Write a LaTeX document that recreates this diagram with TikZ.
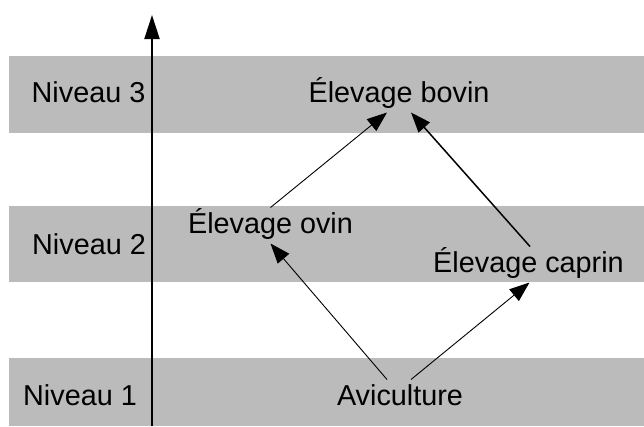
\documentclass[tikz,border=0pt]{standalone}
\usepackage{fontspec}
\setmainfont{Liberation Sans}
\usetikzlibrary{arrows.meta}
\definecolor{band}{HTML}{BBBBBB}
\tikzset{
  bandbox/.style={fill=band, draw=none},
  lbl/.style={inner sep=0pt, outer xsep=0pt, outer ysep=4.5pt, anchor=base,
    text height=21pt, text depth=6pt, font=\fontsize{28.8}{34}\selectfont},
  arr/.style={line width=0.9pt, -{Triangle[length=20pt,width=15pt]}},
  arrthick/.style={line width=1.5pt, -{Triangle[length=20pt,width=15pt]}},
  axis/.style={line width=2pt, -{Triangle[length=24pt,width=15pt]}}
}
\begin{document}
\begin{tikzpicture}[x=1pt,y=-1pt]
\useasboundingbox (0,0) rectangle (644,426);
% bands
\fill[bandbox] (9,56) rectangle (644,133);
\fill[bandbox] (9,206) rectangle (644,282);
\fill[bandbox] (9,358) rectangle (644,426);
% axis
\coordinate (axbot) at (152,426);
\coordinate (axtop) at (152,15);
\draw[axis] (axbot) -- (axtop);
% level labels
\node[lbl] (n3) at (88.5,102) {Niveau 3};
\node[lbl] (n2) at (89,254) {Niveau 2};
\node[lbl] (n1) at (80,405) {Niveau 1};
% items
\node[lbl] (bovin) at (399,102) {Élevage bovin};
\node[lbl] (ovin) at (270.5,233) {Élevage ovin};
\node[lbl] (caprin) at (528.5,272) {Élevage caprin};
\node[lbl] (avi) at (400,405) {Aviculture};
% connectors
\draw[arr] ([xshift=-13pt]avi.north) -- ([xshift=0pt]ovin.south);
\draw[arr] ([xshift=11pt]avi.north) -- ([xshift=1pt]caprin.south);
\draw[arr] ([xshift=0pt]ovin.north) -- ([xshift=-12pt]bovin.south);
\draw[arrthick] ([xshift=1.5pt]caprin.north) -- ([xshift=12pt]bovin.south);
\end{tikzpicture}
\end{document}
